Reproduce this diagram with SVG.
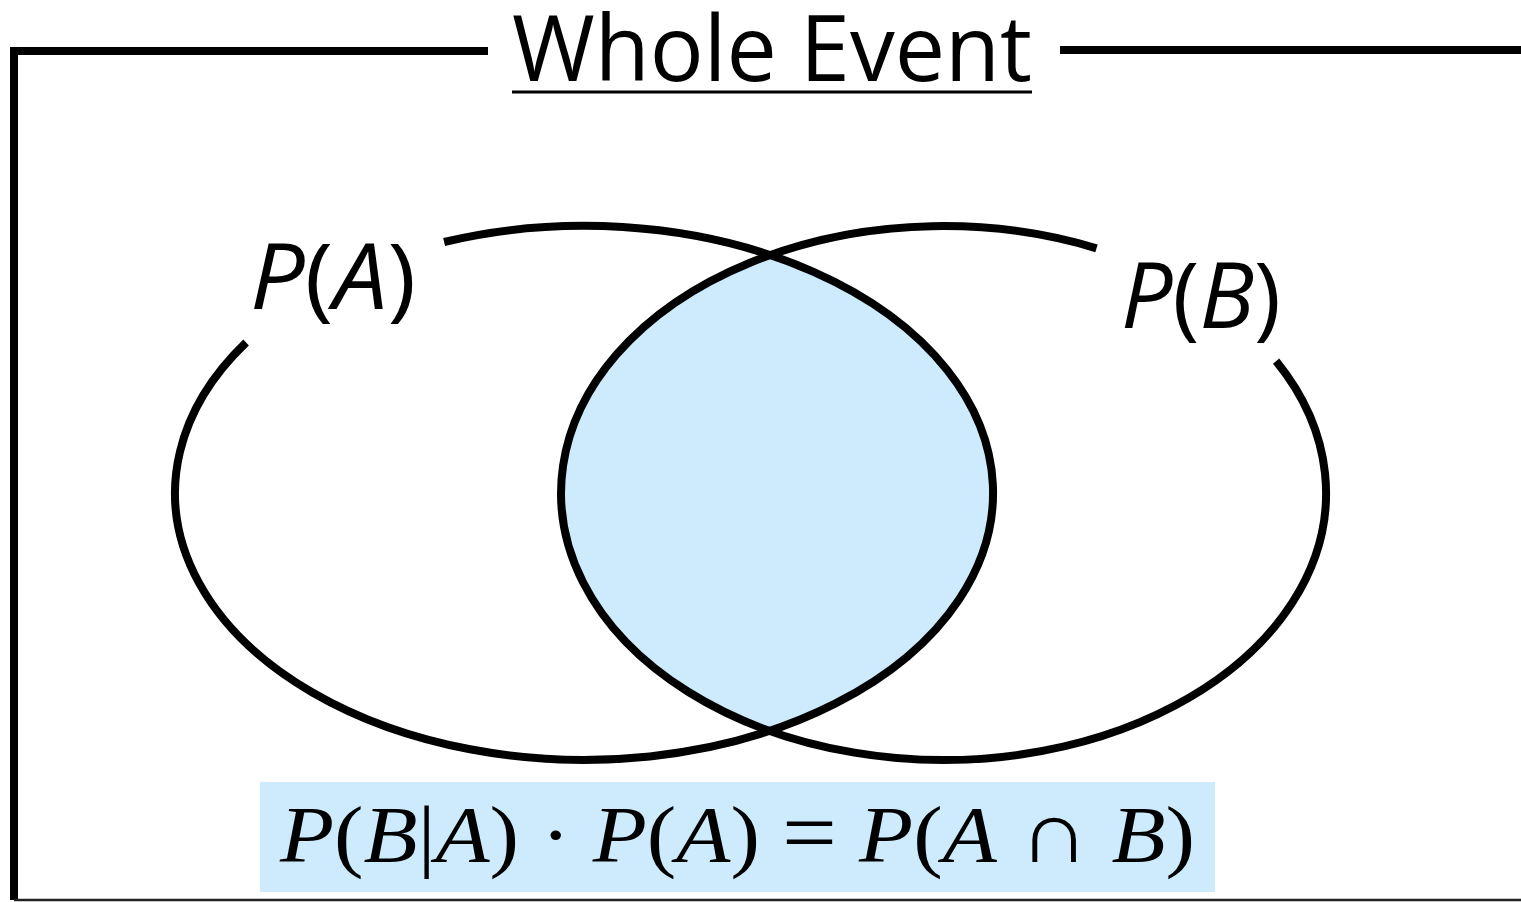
<svg xmlns="http://www.w3.org/2000/svg" width="1521" height="902" viewBox="0 0 1521 902">
<style>
.frame{fill:none;stroke:#000;stroke-width:8}
.ell{fill:none;stroke:#000;stroke-width:8}
.lbl{font-family:"Open Sans","DejaVu Sans",sans-serif;font-style:italic;font-size:92px;fill:#000}
.up{font-style:normal}
.title{font-family:"Open Sans","DejaVu Sans",sans-serif;font-size:92px;fill:#000}
.f{font-family:"Liberation Serif","DejaVu Serif",serif;font-size:80px;fill:#000}
.i{font-style:italic}
.op{font-size:88px}
</style>
<rect width="1521" height="902" fill="#fff"/>
<g id="frame">
<path class="frame" d="M488 51 H14 V900"/>
<path class="frame" d="M1060 50 H1521"/>
<line x1="14" y1="900" x2="1521" y2="900" stroke="#222" stroke-width="2.5"/>
</g>
<g id="title">
<text class="title" x="512" y="81" textLength="520" lengthAdjust="spacingAndGlyphs">Whole Event</text>
<line x1="512" y1="92" x2="1032" y2="92" stroke="#000" stroke-width="3"/>
</g>
<g id="intersection">
<path d="M770 255.15 A382.5 267 0 0 0 770 730.85 A409 267 0 0 0 770 255.15 Z" fill="#cdebfc"/>
</g>
<g id="setA">
<path class="ell" d="M246.1 342.5 A409 267 0 1 0 444.1 242"/>
<text class="lbl" x="250" y="309" textLength="166" lengthAdjust="spacingAndGlyphs">P<tspan class="up">(</tspan>A<tspan class="up">)</tspan></text>
</g>
<g id="setB">
<path class="ell" d="M1276.1 361.1 A382.5 267 0 1 1 1096.5 248.3"/>
<text class="lbl" x="1121" y="328" textLength="160" lengthAdjust="spacingAndGlyphs">P<tspan class="up">(</tspan>B<tspan class="up">)</tspan></text>
</g>
<g id="formula">
<rect x="260" y="782" width="955" height="110" fill="#cdebfc"/>
<text class="f" x="280" y="862" textLength="915" lengthAdjust="spacingAndGlyphs"><tspan class="i">P</tspan>(<tspan class="i">B</tspan>|<tspan class="i">A</tspan>) · <tspan class="i">P</tspan>(<tspan class="i">A</tspan>) <tspan class="op">=</tspan> <tspan class="i">P</tspan>(<tspan class="i">A</tspan> <tspan class="op">∩</tspan> <tspan class="i">B</tspan>)</text>
</g>
</svg>
